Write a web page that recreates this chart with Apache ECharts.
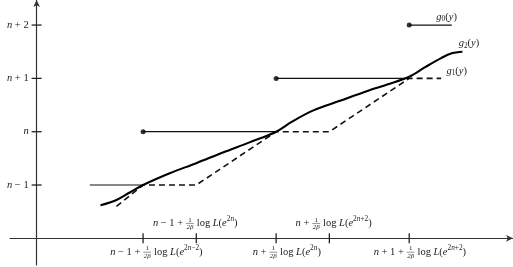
<!DOCTYPE html>
<html><head><meta charset="utf-8">
<script src="https://cdn.jsdelivr.net/npm/echarts@6/dist/echarts.min.js"></script>
<style>html,body{margin:0;padding:0;background:#fff}#c{width:513px;height:267px}</style>
</head><body><div id="c"></div>
<script>
// ---- data ----
const xTicks = [2, 3, 4.5, 5.5, 7];
const yTicks = [1, 2, 3, 4];
// g0: horizontal pieces [x0, x1, y]
const g0Pieces = [[1, 2, 1], [2, 4.5, 2], [4.5, 7, 3], [7, 7.8, 4]];
const g0Dots = [[2, 2], [4.5, 3], [7, 4]];
const g1 = [[1.5, 0.6], [2, 1], [3, 1], [4.5, 2], [5.5, 2], [7, 3], [7.6, 3]];
const g2 = [[1.20,0.62],[1.50,0.72],[1.75,0.86],[2.0,1.0],[2.5,1.22],[3.0,1.41],[3.5,1.61],
  [4.0,1.80],[4.5,2.0],[4.8,2.19],[5.2,2.40],[5.7,2.58],[6.2,2.76],[6.6,2.89],[7.0,3.03],
  [7.3,3.21],[7.6,3.38],[7.8,3.47],[8.0,3.50]];
// label texts as tokens: [text, kind]; kind f = fraction [num, den]
const xTickLabelTexts = [
  [['n','i'],[' − 1 + ','r'],[['1','2β'],'f'],[' log ','r'],['L','i'],['(','r'],['e','i'],['2','sr'],['n','si'],['−2','sr'],[')','r']],
  [['n','i'],[' − 1 + ','r'],[['1','2β'],'f'],[' log ','r'],['L','i'],['(','r'],['e','i'],['2','sr'],['n','si'],[')','r']],
  [['n','i'],[' + ','r'],[['1','2β'],'f'],[' log ','r'],['L','i'],['(','r'],['e','i'],['2','sr'],['n','si'],[')','r']],
  [['n','i'],[' + ','r'],[['1','2β'],'f'],[' log ','r'],['L','i'],['(','r'],['e','i'],['2','sr'],['n','si'],['+2','sr'],[')','r']],
  [['n','i'],[' + 1 + ','r'],[['1','2β'],'f'],[' log ','r'],['L','i'],['(','r'],['e','i'],['2','sr'],['n','si'],['+2','sr'],[')','r']]
];
// [x, y, textIndex, align(0 center,1 right,2 left)]
const xTickLabelPos = [[2.25, -0.26, 0, 0], [2.98, 0.28, 1, 0], [4.70, -0.26, 2, 0], [5.58, 0.28, 3, 0], [7.20, -0.26, 4, 0]];
const yTickLabelTexts = [
  [['n','i'],[' − 1','r']], [['n','i']], [['n','i'],[' + 1','r']], [['n','i'],[' + 2','r']]
];
const yTickLabelPos = [[-0.15, 1, 0, 1], [-0.15, 2, 1, 1], [-0.15, 3, 2, 1], [-0.15, 4, 3, 1]];
const seriesNameTexts = [
  [['g','i'],['0','br'],['(','r'],['y','i'],[')','r']],
  [['g','i'],['1','br'],['(','r'],['y','i'],[')','r']],
  [['g','i'],['2','br'],['(','r'],['y','i'],[')','r']]
];
const seriesNamePos = [[7.51, 4.15, 0, 2], [7.70, 3.14, 1, 2], [7.93, 3.66, 2, 2]];

// ---- rendering helpers ----
const SERIF = '"Liberation Serif", "DejaVu Serif", serif';
const FS = 10.5;
const TXT = '#222';
const mctx = document.createElement('canvas').getContext('2d');
const KINDS = {
  i: {s: FS, it: true, dy: 0}, r: {s: FS, it: false, dy: 0},
  si: {s: FS * 0.7, it: true, dy: -4}, sr: {s: FS * 0.7, it: false, dy: -4},
  bi: {s: FS * 0.7, it: true, dy: 2.5}, br: {s: FS * 0.7, it: false, dy: 2.5}
};
function fontOf(k) { return (k.it ? 'italic ' : '') + k.s.toFixed(1) + 'px ' + SERIF; }
function measure(t, f) { mctx.font = f; return mctx.measureText(t).width; }
function mkText(t, x, y, f, align) {
  return {type: 'text', x: x, y: y, style: {text: t, font: f, fill: TXT,
    align: align, verticalAlign: 'middle', textAlign: align, textVerticalAlign: 'middle'}};
}
function layoutTokens(tokens, cx, cy, align) {
  const fracSize = FS * 0.66;
  const fNum = fracSize.toFixed(1) + 'px ' + SERIF;
  const fDen = 'italic ' + fracSize.toFixed(1) + 'px ' + SERIF;
  const items = tokens.map(function (tk) {
    if (tk[1] === 'f') {
      const w = Math.max(measure(tk[0][0], fNum), measure(tk[0][1], fDen)) + 1.5;
      return {frac: tk[0], w: w};
    }
    const k = KINDS[tk[1]];
    const f = fontOf(k);
    return {t: tk[0], f: f, dy: k.dy, w: measure(tk[0], f)};
  });
  const W = items.reduce(function (a, b) { return a + b.w; }, 0);
  let x = align === 0 ? cx - W / 2 : (align === 1 ? cx - W : cx);
  const children = [];
  items.forEach(function (it) {
    if (it.frac) {
      children.push(mkText(it.frac[0], x + it.w / 2, cy - 3.6, fNum, 'center'));
      children.push(mkText(it.frac[1], x + it.w / 2, cy + 3.9, fDen, 'center'));
      children.push({type: 'line', shape: {x1: x + 0.3, y1: cy, x2: x + it.w - 0.3, y2: cy},
        style: {stroke: TXT, lineWidth: 0.5}});
    } else {
      children.push(mkText(it.t, x, cy + it.dy, it.f, 'left'));
    }
    x += it.w;
  });
  return {type: 'group', children: children};
}
function labelSeries(pos, texts) {
  return {
    type: 'custom', silent: true, data: pos, clip: false, z: 5,
    renderItem: function (params, api) {
      const p = api.coord([api.value(0), api.value(1)]);
      return layoutTokens(texts[api.value(2)], p[0], p[1], api.value(3));
    }
  };
}

const tickData = xTicks.map(function (v) { return [v, 0, 0]; })
  .concat(yTicks.map(function (v) { return [0, v, 1]; }));

const series = [];
g0Pieces.forEach(function (pc) {
  series.push({type: 'line', data: [[pc[0], pc[2]], [pc[1], pc[2]]], symbol: 'none',
    lineStyle: {color: '#111', width: 1.2}, silent: true});
});
series.push({type: 'scatter', data: g0Dots, symbolSize: 5, itemStyle: {color: '#000'}, silent: true, z: 4});
series.push({type: 'line', data: g1, symbol: 'none', lineStyle: {color: '#111', width: 1.6, type: [6, 4]}, silent: true});
series.push({type: 'line', data: g2, symbol: 'none', smooth: 0.35, lineStyle: {color: '#000', width: 2.1}, silent: true, z: 3});
series.push({
  type: 'custom', silent: true, data: tickData, clip: false,
  renderItem: function (params, api) {
    const p = api.coord([api.value(0), api.value(1)]);
    const vert = api.value(2) === 0;
    return {type: 'line', shape: vert ? {x1: p[0], y1: p[1] - 5, x2: p[0], y2: p[1] + 5}
      : {x1: p[0] - 5, y1: p[1], x2: p[0] + 5, y2: p[1]}, style: {stroke: '#222', lineWidth: 1.3}};
  }
});
series.push(labelSeries(xTickLabelPos, xTickLabelTexts));
series.push(labelSeries(yTickLabelPos, yTickLabelTexts));
series.push(labelSeries(seriesNamePos, seriesNameTexts));

const chart = echarts.init(document.getElementById('c'), null, {renderer: 'canvas'});
chart.setOption({
  animation: false,
  backgroundColor: '#fff',
  grid: {left: 10, top: 0, width: 503, height: 265, containLabel: false},
  xAxis: {type: 'value', min: -0.5, max: 8.95,
    axisLine: {onZero: true, symbol: ['none', 'arrow'], symbolSize: [5, 7], lineStyle: {color: '#333', width: 1.2}},
    axisTick: {show: false}, axisLabel: {show: false}, splitLine: {show: false}},
  yAxis: {type: 'value', min: -0.5, max: 4.47,
    axisLine: {onZero: true, symbol: ['none', 'arrow'], symbolSize: [5, 7], lineStyle: {color: '#333', width: 1.2}},
    axisTick: {show: false}, axisLabel: {show: false}, splitLine: {show: false}},
  series: series
});
</script></body></html>
